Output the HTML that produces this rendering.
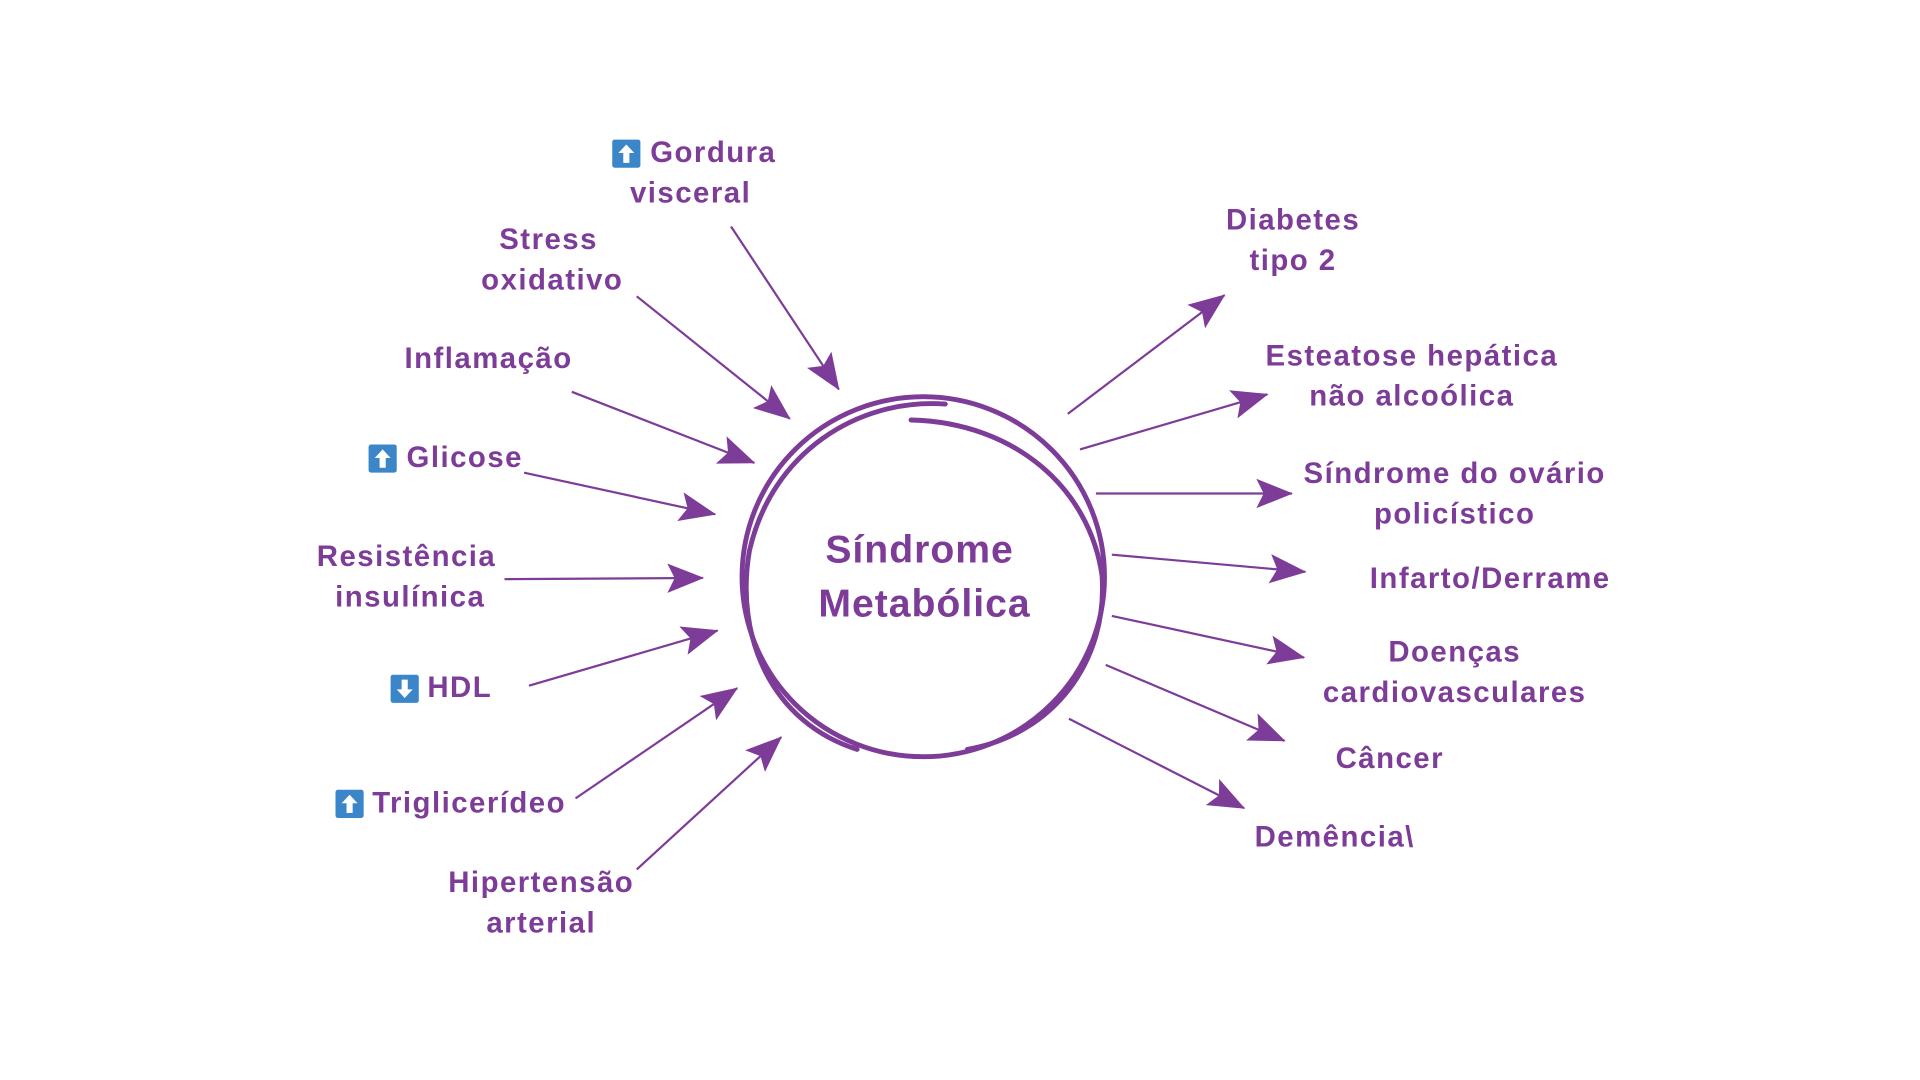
<!DOCTYPE html>
<html><head><meta charset="utf-8"><style>html,body{margin:0;padding:0;background:#fff}svg{display:block}</style></head>
<body>
<svg width="1920" height="1080" viewBox="0 0 1568 882" preserveAspectRatio="none" xmlns="http://www.w3.org/2000/svg">
<defs>
<marker id="ah" viewBox="0 0 30 24" refX="29" refY="12" markerWidth="30" markerHeight="24" markerUnits="userSpaceOnUse" orient="auto"><path d="M0,0 L30,12 L0,24 L6,12 z" fill="#7d3c98"/></marker>
</defs>
<g fill="none" stroke="#7d3c98" stroke-width="4" stroke-linecap="round">
<ellipse cx="754" cy="471" rx="148" ry="147"/>
<path d="M772,330 C700,325 630,370 612,450 C600,520 630,590 700,612"/>
<path d="M744,343 C830,345 890,400 900,470 C905,540 860,600 790,612"/>
</g>
<g stroke="#7d3c98" stroke-width="1.8" fill="none" marker-end="url(#ah)">
<line x1="597" y1="185" x2="685" y2="318"/>
<line x1="520" y1="242" x2="645" y2="342"/>
<line x1="467" y1="320" x2="616" y2="378"/>
<line x1="428" y1="386" x2="584" y2="420"/>
<line x1="412" y1="473" x2="574" y2="472"/>
<line x1="432" y1="560" x2="586" y2="515"/>
<line x1="470" y1="652" x2="602" y2="562"/>
<line x1="520" y1="710" x2="638" y2="602"/>
<line x1="872" y1="338" x2="1000" y2="241"/>
<line x1="882" y1="367" x2="1035" y2="322"/>
<line x1="895" y1="403" x2="1055" y2="403"/>
<line x1="908" y1="453" x2="1066" y2="467"/>
<line x1="908" y1="503" x2="1065" y2="537"/>
<line x1="903" y1="543" x2="1049" y2="605"/>
<line x1="873" y1="587" x2="1016" y2="660"/>
</g>
<g fill="#3a86c8">
<rect x="500" y="114" width="23" height="23" rx="2"/><rect x="301" y="363" width="23" height="23" rx="2"/>
<rect x="319" y="551" width="23" height="23" rx="2"/><rect x="274" y="645" width="23" height="23" rx="2"/>
</g>
<g fill="#fff">
<path d="M511.5,118 L518,125 L514,125 L514,133 L509,133 L509,125 L505,125z"/>
<path d="M312.5,367 L319,374 L315,374 L315,382 L310,382 L310,374 L306,374z"/>
<path d="M285.5,649 L292,656 L288,656 L288,664 L283,664 L283,656 L279,656z"/>
<path d="M330.5,570 L337,563 L333,563 L333,555 L328,555 L328,563 L324,563z"/>
</g>
<g font-family="'Liberation Sans',sans-serif" font-weight="bold" font-size="24" letter-spacing="1.2" fill="#7d3c98" dominant-baseline="middle">
<text x="531" y="126">Gordura</text>
<text x="564" y="159" text-anchor="middle">visceral</text>
<text x="448" y="197" text-anchor="middle">Stress</text>
<text x="451" y="230" text-anchor="middle">oxidativo</text>
<text x="399" y="294" text-anchor="middle">Inflamação</text>
<text x="332" y="375">Glicose</text>
<text x="332" y="456" text-anchor="middle">Resistência</text>
<text x="335" y="489" text-anchor="middle">insulínica</text>
<text x="349" y="563">HDL</text>
<text x="304" y="657">Triglicerídeo</text>
<text x="442" y="722" text-anchor="middle">Hipertensão</text>
<text x="442" y="755" text-anchor="middle">arterial</text>
<text x="1056" y="181" text-anchor="middle">Diabetes</text>
<text x="1056" y="214" text-anchor="middle">tipo 2</text>
<text x="1153" y="292" text-anchor="middle">Esteatose hepática</text>
<text x="1153" y="325" text-anchor="middle">não alcoólica</text>
<text x="1188" y="388" text-anchor="middle">Síndrome do ovário</text>
<text x="1188" y="421" text-anchor="middle">policístico</text>
<text x="1217" y="474" text-anchor="middle">Infarto/Derrame</text>
<text x="1188" y="534" text-anchor="middle">Doenças</text>
<text x="1188" y="567" text-anchor="middle">cardiovasculares</text>
<text x="1135" y="621" text-anchor="middle">Câncer</text>
<text x="1090" y="685" text-anchor="middle">Demência\</text>
<text x="751" y="451" text-anchor="middle" font-size="32" letter-spacing="0.8">Síndrome</text>
<text x="755" y="495" text-anchor="middle" font-size="32" letter-spacing="0.8">Metabólica</text>
</g>
</svg>
</body></html>
